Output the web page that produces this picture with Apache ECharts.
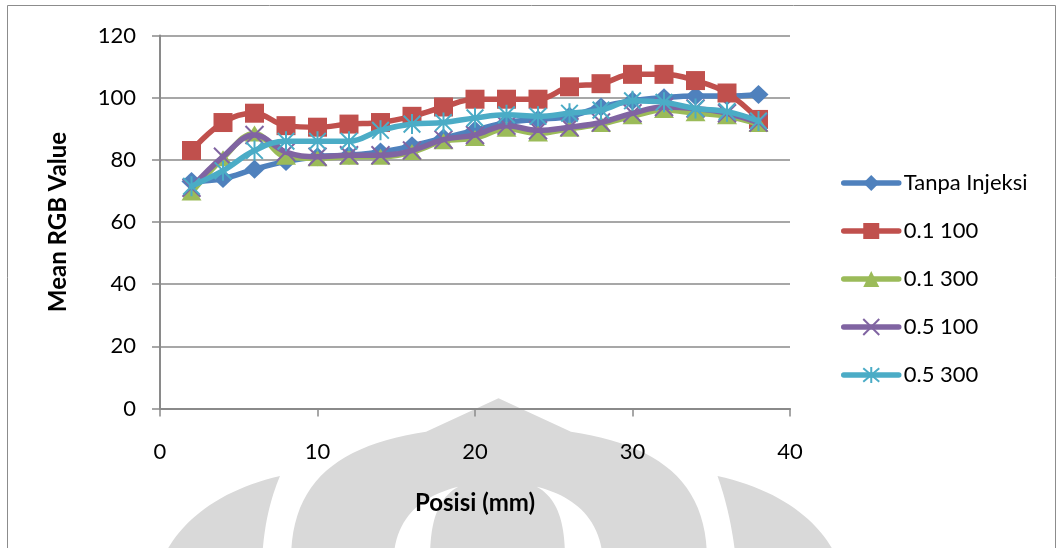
<!DOCTYPE html>
<html>
<head>
<meta charset="utf-8">
<script src="https://cdn.jsdelivr.net/npm/echarts@6/dist/echarts.min.js"></script>
<style>
html,body{margin:0;padding:0;background:#fff;}
#chart{width:1060px;height:548px;}
</style>
</head>
<body>
<div id="chart"></div>
<script>
// ---- data ----
const positions = [2,4,6,8,10,12,14,16,18,20,22,24,26,28,30,32,34,36,38];
const seriesNames = ['Tanpa Injeksi','0.1 100','0.1 300','0.5 100','0.5 300'];
const tanpaInjeksi = [73,74,77,79.5,81,81.5,82.5,84.5,87,89.5,92,93,94,97,99,100,100.5,100.5,101];
const s01_100 = [83,92,95,91,90.5,91.5,92,94,97,99.5,99.5,99.5,103.5,104.5,107.5,107.5,105.5,101.5,93];
const s01_300 = [69.5,80.5,88.5,81,80.5,81,81,82.5,86,87,90,88.5,90,91.5,94,96,95,94,91.5];
const s05_100 = [71,81,88,82.5,81,81.5,81.5,83,86.5,88,91,89.5,90.5,92,95,97,96.5,95,92];
const s05_300 = [71.5,76.5,83,86,86,86,89.5,91.5,92,93.5,94.5,94,95,96,99,98.5,96.5,95.5,92.5];
const xTicks = [0,10,20,30,40];
const yTicks = [0,20,40,60,80,100,120];

const colors = ['#4F81BD','#C0504D','#9BBB59','#8064A2','#4BACC6'];
const symbols = ['diamond','rect','triangle',
  'path://M0,0L10,10M10,0L0,10',
  'path://M5,-1L5,11M0,0L10,10M10,0L0,10'];
const symbolSizes = [[20,19],[19,19],[20,16],[18,18],[20,20]];
const values = [tanpaInjeksi,s01_100,s01_300,s05_100,s05_300];

const FONT = 'Lato';
const grey = '#8a8a8a';

const series = seriesNames.map((name,i)=>{
  const isPath = i >= 3;
  return {
    name: name,
    type: 'line',
    smooth: 0.4,
    data: positions.map((x,k)=>[x, values[i][k]]),
    symbol: symbols[i],
    symbolSize: symbolSizes[i],
    symbolKeepAspect: true,
    showAllSymbol: true,
    lineStyle: {color: colors[i], width: 5.5, cap: 'round', join: 'round'},
    itemStyle: isPath
      ? {color: colors[i], borderColor: colors[i], borderWidth: 2}
      : {color: colors[i], borderWidth: 0},
    emphasis: {disabled: true},
    z: 2 + i
  };
});

// ---- watermark decoration (background logo), sampled bezier outlines ----
function shape(start, segs){
  const pts = [start.slice()];
  let cur = start.slice();
  segs.forEach(s=>{
    if (s[0]==='L'){ cur=[s[1],s[2]]; pts.push(cur); }
    else {
      const p0=cur, p1=[s[1],s[2]], p2=[s[3],s[4]], p3=[s[5],s[6]];
      for (let k=1;k<=24;k++){
        const t=k/24, u=1-t;
        pts.push([u*u*u*p0[0]+3*u*u*t*p1[0]+3*u*t*t*p2[0]+t*t*t*p3[0],
                  u*u*u*p0[1]+3*u*u*t*p1[1]+3*u*t*t*p2[1]+t*t*t*p3[1]]);
      }
      cur=p3;
    }
  });
  return pts;
}
const wm = '#d9d9d9';
const dome = shape([498.5,398.3],[['L',426,431.7],['C',340,445,291,480,291,560],['L',707,560],['C',707,480,657,445,571,431.7],['L',498.5,398.3]]);
const slvL = shape([458.3,486.7],[['C',425,495,395,515,393.5,560],['L',430,560],['C',430,530,434,500,458.3,486.7]]);
const slvR = shape([536.7,486.7],[['C',570,495,600,515,603,560],['L',565,560],['C',565,530,561,500,536.7,486.7]]);
const wingL = shape([280,476],[['C',270,500,264,525,262,560],['L',162,560],['C',180,520,220,490,280,476]]);
const wingR = shape([717.5,476],[['C',726,500,732,525,736,560],['L',838,560],['C',820,520,780,490,717.5,476]]);

const graphics = [
  {type:'rect', shape:{x:7.5,y:5.5,width:1048,height:560}, style:{fill:'none', stroke:'#8c8c8c', lineWidth:1}, z:-20, silent:true},
  {type:'polygon', shape:{points:dome}, style:{fill:wm}, z:-10, silent:true},
  {type:'polygon', shape:{points:slvL}, style:{fill:'#fff'}, z:-9, silent:true},
  {type:'polygon', shape:{points:slvR}, style:{fill:'#fff'}, z:-9, silent:true},
  {type:'polygon', shape:{points:wingL}, style:{fill:wm}, z:-10, silent:true},
  {type:'polygon', shape:{points:wingR}, style:{fill:wm}, z:-10, silent:true}
];

const chart = echarts.init(document.getElementById('chart'), null, {renderer:'canvas'});
chart.setOption({
  animation: false,
  backgroundColor: '#fff',
  color: colors,
  textStyle: {fontFamily: FONT},
  graphic: graphics,
  grid: {left:160, right:270, top:35.5, bottom:139.5, containLabel:false},
  legend: {
    orient: 'vertical',
    left: 836,
    top: 167,
    itemWidth: 55,
    itemHeight: 20,
    itemGap: 26,
    data: seriesNames,
    lineStyle: {width: 5.5},
    textStyle: {fontFamily: FONT, fontSize: 22, color:'#000', lineHeight: 20},
    selectedMode: false
  },
  xAxis: {
    type: 'value',
    min: xTicks[0], max: xTicks[xTicks.length-1], interval: 10,
    name: 'Posisi (mm)',
    nameLocation: 'middle',
    nameGap: 83,
    nameTextStyle: {fontFamily: FONT, fontWeight:'bold', fontSize: 24, color:'#000'},
    axisLine: {show:true, lineStyle:{color:grey, width:2}},
    axisTick: {show:true, inside:false, length:8, lineStyle:{color:grey, width:1.5}},
    axisLabel: {fontFamily: FONT, fontSize: 22, color:'#000', margin: 32},
    splitLine: {show:false}
  },
  yAxis: {
    type: 'value',
    min: yTicks[0], max: yTicks[yTicks.length-1], interval: 20,
    name: 'Mean RGB Value',
    nameLocation: 'middle',
    nameRotate: 90,
    nameGap: 90,
    nameTextStyle: {fontFamily: FONT, fontWeight:'bold', fontSize: 24, color:'#000'},
    axisLine: {show:true, lineStyle:{color:grey, width:2}},
    axisTick: {show:true, inside:false, length:8, lineStyle:{color:grey, width:1.5}},
    axisLabel: {fontFamily: FONT, fontSize: 22, color:'#000', margin: 24},
    splitLine: {show:true, lineStyle:{color:grey, width:1.5}}
  },
  series: series
});
</script>
</body>
</html>
